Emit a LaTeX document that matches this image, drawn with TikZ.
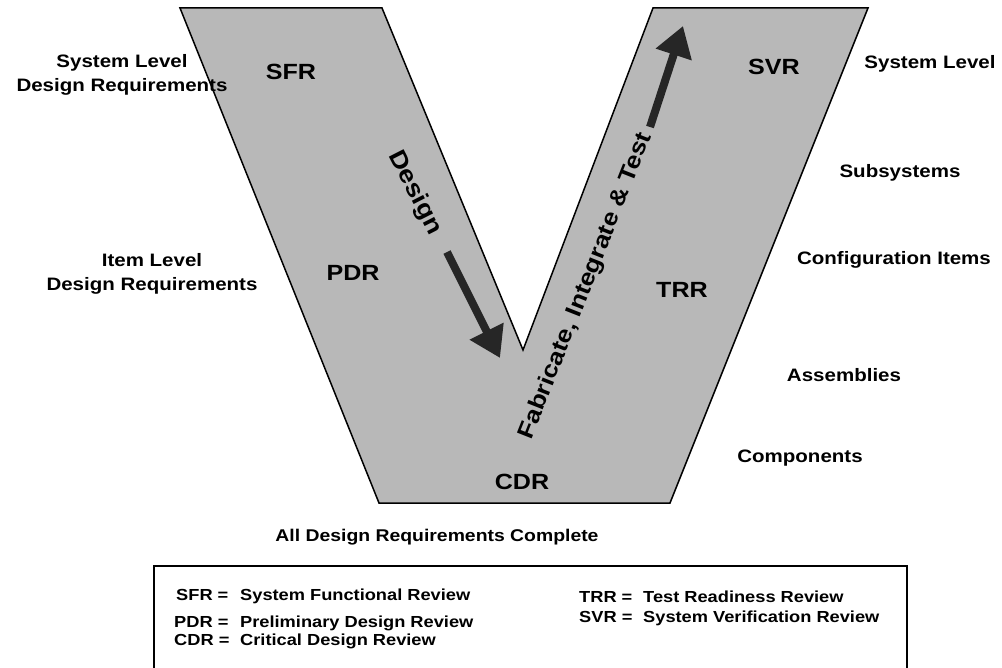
\documentclass[tikz,border=0pt]{standalone}
\usepackage{fontspec}
\setmainfont[FakeStretch=1.14]{Liberation Sans}
\usetikzlibrary{arrows.meta}

\begin{document}
\begin{tikzpicture}[
  x=1pt, y=-1pt,
  vee/.style={draw, line width=1.5pt, fill=black!28},
  review/.style={font=\fontsize{22}{26}\selectfont\bfseries},
  level/.style={font=\fontsize{18}{24}\selectfont\bfseries, align=center},
  phase/.style={font=\fontsize{23}{26}\selectfont\bfseries, inner sep=0pt},
  key/.style={font=\fontsize{16}{18}\selectfont\bfseries, anchor=base west, inner sep=0pt},
  bigarrow/.style={line width=8pt, draw=black!85, -{Triangle[length=30pt, width=36pt]}}
]
  \useasboundingbox (0,0) rectangle (1002,668);

  \draw[vee] (180,8) -- (382,8) -- (523,350) -- (653,8) -- (868,8) -- (670,503) -- (379,503) -- cycle;

  \node[level] (syslvl) at (122,75) {System Level\\Design Requirements};
  \node[level] (itemlvl) at (152,274) {Item Level\\Design Requirements};

  \node[level] (sys) at (930,64) {System Level};
  \node[level] (subsys) at (900,173) {Subsystems};
  \node[level] (config) at (894,260) {Configuration Items};
  \node[level] (assy) at (844,375) {Assemblies};
  \node[level] (comp) at (800,458) {Components};

  \node[review] (sfr) at (291,72) {SFR};
  \node[review] (pdr) at (353,273) {PDR};
  \node[review] (cdr) at (522,482) {CDR};
  \node[review] (trr) at (682,290) {TRR};
  \node[review] (svr) at (774,67) {SVR};

  \node[phase, rotate=-63, font=\fontsize{24}{26}\selectfont\bfseries] (design) at (415,193) {Design};
  \node[phase, rotate=68.5] (fit) at (586,286) {Fabricate, Integrate \& Test};

  \coordinate (dtail) at (447,252);
  \coordinate (dtip) at (500,358);
  \coordinate (utail) at (650,127);
  \coordinate (utip) at (683,26);
  \draw[bigarrow] (dtail) -- (dtip);
  \draw[bigarrow] (utail) -- (utip);

  \node[font=\fontsize{17}{20}\selectfont\bfseries] (done) at (437,537) {All Design Requirements Complete};

  \draw[line width=1.2pt] (154,668) -- (154,566) -- (907,566) -- (907,668);

  \node[key] (ksfr) at (176,600) {SFR =};
  \node[key] (kpdr) at (174,627) {PDR =};
  \node[key] (kcdr) at (174,645) {CDR =};
  \node[key] (ktrr) at (579,602) {TRR =};
  \node[key] (ksvr) at (579,622) {SVR =};
  \node[key] (dsfr) at (240,600) {System Functional Review};
  \node[key] (dpdr) at (240,627) {Preliminary Design Review};
  \node[key] (dcdr) at (240,645) {Critical Design Review};
  \node[key] (dtrr) at (643,602) {Test Readiness Review};
  \node[key] (dsvr) at (643,622) {System Verification Review};
\end{tikzpicture}
\end{document}
